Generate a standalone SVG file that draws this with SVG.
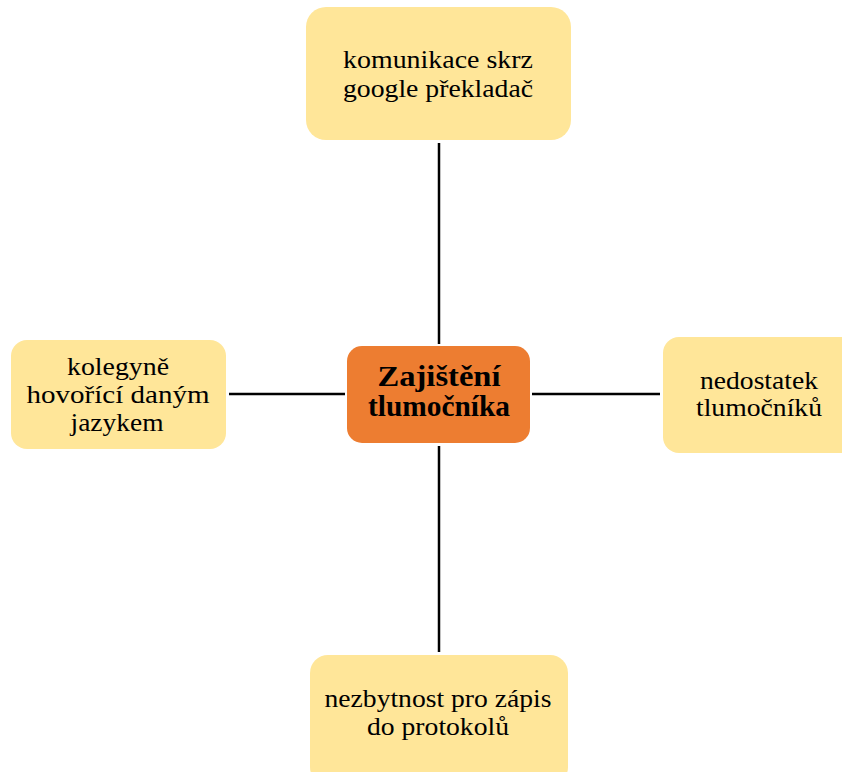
<svg xmlns="http://www.w3.org/2000/svg" width="842" height="772" viewBox="0 0 842 772">
<style>
.leaf{fill:#FFE699}
.hub{fill:#ED7D31}
.t{font-family:"Liberation Serif","Times New Roman",Times,serif;font-size:26px;fill:#000;text-anchor:middle}
.tb{font-family:"Liberation Serif","Times New Roman",Times,serif;font-size:29px;font-weight:bold;fill:#000;text-anchor:middle}
.c{stroke:#000;stroke-width:2.5;fill:none}
</style>
<rect width="842" height="772" fill="#fff"/>
<g id="connectors">
<line class="c" x1="439" y1="143" x2="439" y2="344"/>
<line class="c" x1="439" y1="446" x2="439" y2="652"/>
<line class="c" x1="229" y1="394" x2="345" y2="394"/>
<line class="c" x1="532" y1="394" x2="660" y2="394"/>
</g>
<g id="n-top">
<rect class="leaf" x="306" y="7" width="265" height="133" rx="20"/>
<text class="t" x="438" y="68" textLength="190" lengthAdjust="spacingAndGlyphs">komunikace skrz</text>
<text class="t" x="438" y="97" textLength="190" lengthAdjust="spacingAndGlyphs">google překladač</text>
</g>
<g id="n-center">
<rect class="hub" x="347" y="346" width="183" height="97" rx="15"/>
<text class="tb" x="439" y="386" textLength="123" lengthAdjust="spacingAndGlyphs">Zajištění</text>
<text class="tb" x="439" y="416" textLength="142" lengthAdjust="spacingAndGlyphs">tlumočníka</text>
</g>
<g id="n-left">
<rect class="leaf" x="11" y="340" width="215" height="109" rx="16"/>
<text class="t" x="118" y="375" textLength="102" lengthAdjust="spacingAndGlyphs">kolegyně</text>
<text class="t" x="118" y="403" textLength="183" lengthAdjust="spacingAndGlyphs">hovořící daným</text>
<text class="t" x="117" y="431" textLength="93" lengthAdjust="spacingAndGlyphs">jazykem</text>
</g>
<g id="n-right">
<rect class="leaf" x="663" y="337" width="200" height="116" rx="16"/>
<text class="t" x="759" y="389" textLength="118" lengthAdjust="spacingAndGlyphs">nedostatek</text>
<text class="t" x="759" y="416" textLength="126" lengthAdjust="spacingAndGlyphs">tlumočníků</text>
</g>
<g id="n-bottom">
<rect class="leaf" x="310" y="655" width="258" height="130" rx="18"/>
<text class="t" x="438" y="707" textLength="227" lengthAdjust="spacingAndGlyphs">nezbytnost pro zápis</text>
<text class="t" x="438" y="735" textLength="142" lengthAdjust="spacingAndGlyphs">do protokolů</text>
</g>
</svg>
